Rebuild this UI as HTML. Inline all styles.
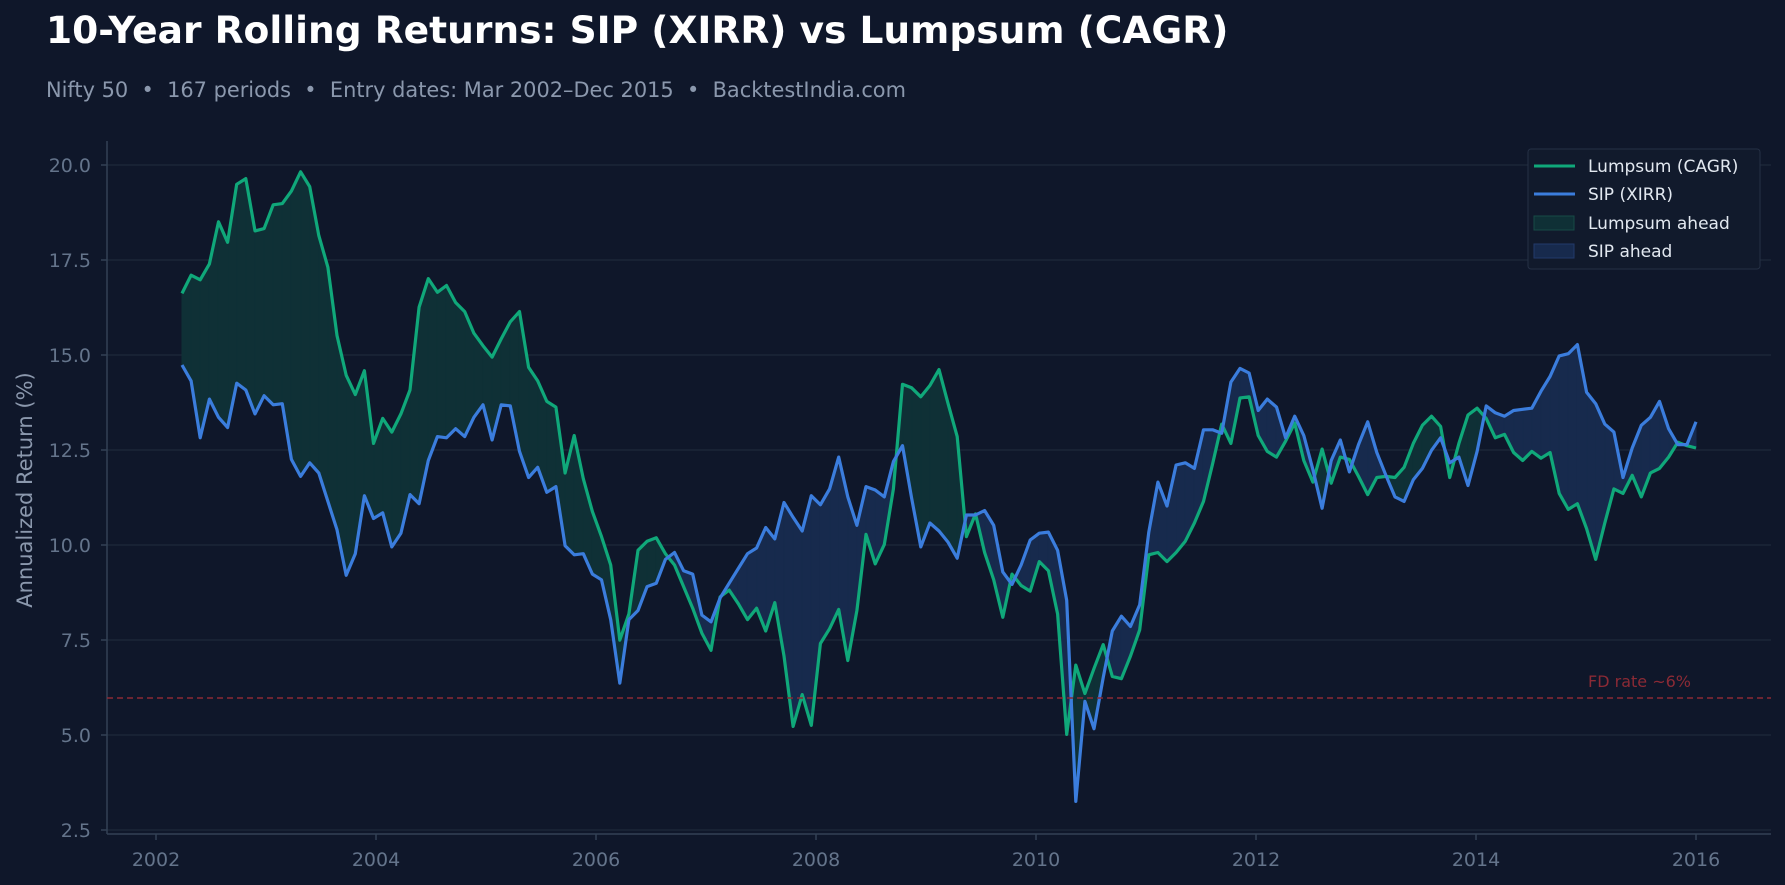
<!DOCTYPE html>
<html><head><meta charset="utf-8"><style>
html,body{margin:0;padding:0;background:#0f172a;}
svg{display:block;font-family:"DejaVu Sans","Liberation Sans",sans-serif;}
</style></head><body>
<svg id="c" width="1785" height="885" xmlns="http://www.w3.org/2000/svg">
<rect width="1785" height="885" fill="#0f172a"/>
<text x="46" y="43" fill="#ffffff" font-size="37.6" font-weight="bold">10-Year Rolling Returns: SIP (XIRR) vs Lumpsum (CAGR)</text>
<text x="46" y="97" fill="#8b98ad" font-size="20.9" style="white-space:pre">Nifty 50  •  167 periods  •  Entry dates: Mar 2002–Dec 2015  •  BacktestIndia.com</text>
<g id="grid"></g>
<g id="fills"></g>
<g id="lines"></g>
<line x1="107" y1="141" x2="107" y2="834" stroke="#334155" stroke-width="1.5"/>
<line x1="107" y1="834" x2="1771" y2="834" stroke="#334155" stroke-width="1.5"/>
<line x1="107" y1="698" x2="1771" y2="698" stroke="#8b2a35" stroke-width="1.5" stroke-dasharray="6,4"/>
<text x="1588" y="687" fill="#8b2a35" font-size="16">FD rate ~6%</text>
<text transform="translate(32,490) rotate(-90)" text-anchor="middle" fill="#8b98ad" font-size="21">Annualized Return (%)</text>
<g id="ticks" fill="#64748b" font-size="19"></g>
<rect x="1528" y="149" width="232" height="120" rx="3" fill="#111a2c" stroke="#253045" stroke-width="1"/>
<line x1="1534" y1="166" x2="1575" y2="166" stroke="#10a87a" stroke-width="3"/>
<line x1="1534" y1="194" x2="1575" y2="194" stroke="#3b7ddd" stroke-width="3"/>
<rect x="1534" y="216" width="40" height="14" fill="#0f3036" stroke="#174a46"/>
<rect x="1534" y="244" width="40" height="14" fill="#172a4d" stroke="#22396a"/>
<g fill="#e2e8f0" font-size="17">
<text x="1588" y="172">Lumpsum (CAGR)</text>
<text x="1588" y="200">SIP (XIRR)</text>
<text x="1588" y="229">Lumpsum ahead</text>
<text x="1588" y="257">SIP ahead</text>
</g>
</svg>
<script>
var L=[258,242,246,232,195,213,162,157,203,201,180,179,168,151,164,207,235,295,330,347,326,390,368,380,364,343,270,245,257,251,266,274,293,304,314,298,283,274,323,335,353,358,416,383,421,450,472,497,563,540,484,476,473,487,497,516,535,557,572,525,519,531,545,535,555,530,577,639,611,638,566,553,536,581,537,470,496,479,430,338,341,349,339,325,355,384,472,452,486,510,543,505,515,520,494,502,540,646,585,610,588,567,595,597,577,554,488,486,494,486,476,460,441,408,373,390,350,349,383,397,402,388,372,405,424,395,425,402,404,419,435,420,419,420,411,390,374,366,375,420,390,365,359,368,385,382,398,405,397,403,398,434,448,443,465,492,460,430,434,418,437,416,412,402,389,392,394];
var S=[321,335,385,351,367,376,337,343,364,348,356,355,404,419,407,416,441,466,506,487,436,456,451,481,469,435,443,405,384,385,377,384,367,356,387,356,357,397,420,411,433,428,480,488,487,505,510,545,601,545,537,516,513,492,486,502,505,541,547,526,513,500,487,482,464,474,442,455,467,436,444,430,402,437,462,428,431,437,406,392,438,481,460,467,477,491,453,453,449,462,503,514,497,475,469,468,484,528,705,617,641,596,555,542,551,532,468,424,445,409,407,412,378,378,381,336,324,328,361,351,358,385,366,383,413,447,405,387,415,391,371,398,418,437,441,422,412,396,385,407,402,427,397,357,363,366,361,360,359,344,331,313,311,303,345,355,373,380,420,394,374,367,353,377,391,391,371];
var n=Math.min(L.length,S.length);
function X(i){return 182+i*(1514/(n-1));}
function Y(d){return 165+(d-145)*1.1365;}
var ns="http://www.w3.org/2000/svg";
function el(p,t,a,txt){var e=document.createElementNS(ns,t);for(var k in a)e.setAttribute(k,a[k]);if(txt)e.textContent=txt;document.getElementById(p).appendChild(e);}
[2.5,5,7.5,10,12.5,15,17.5,20].forEach(function(v){var y=165+(20-v)*38;
 el('grid','line',{x1:107,x2:1771,y1:y,y2:y,stroke:'#1c2638','stroke-width':1.5});
 el('ticks','line',{x1:101,x2:107,y1:y,y2:y,stroke:'#334155','stroke-width':1.5});
 el('ticks','text',{x:91,y:y+7,'text-anchor':'end'},v.toFixed(1));});
for(var yr=2002;yr<=2016;yr+=2){var x=156+(yr-2002)*110;
 el('ticks','line',{x1:x,x2:x,y1:834,y2:840,stroke:'#334155','stroke-width':1.5});
 el('ticks','text',{x:x,y:866,'text-anchor':'middle'},String(yr));}
for(var i=0;i<n-1;i++){
 var x0=X(i),x1=X(i+1),l0=Y(L[i]),l1=Y(L[i+1]),s0=Y(S[i]),s1=Y(S[i+1]);
 var d0=s0-l0,d1=s1-l1;
 function poly(pts,c){el('fills','polygon',{points:pts.map(function(p){return p[0]+','+p[1]}).join(' '),fill:c,stroke:c,'stroke-width':1});}
 var G='#0f3036',B='#172a4d';
 if(d0*d1>=0){poly([[x0,l0],[x1,l1],[x1,s1],[x0,s0]],(d0+d1)>=0?G:B);}
 else{var t=d0/(d0-d1),xc=x0+t*(x1-x0),yc=l0+t*(l1-l0);
  poly([[x0,l0],[xc,yc],[x0,s0]],d0>0?G:B);poly([[xc,yc],[x1,l1],[x1,s1]],d1>0?G:B);}
}
function pl(a,c){var p=[];for(var i=0;i<n;i++)p.push(X(i).toFixed(1)+','+Y(a[i]).toFixed(1));
 el('lines','polyline',{points:p.join(' '),fill:'none',stroke:c,'stroke-width':3.2,'stroke-linejoin':'round'});}
pl(L,'#10a87a');pl(S,'#3b7ddd');
</script>
</body></html>
